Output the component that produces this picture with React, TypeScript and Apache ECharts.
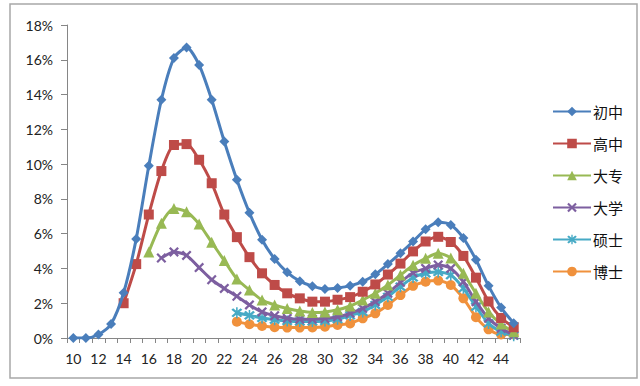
import React, { useEffect, useRef } from "react";
import * as echarts from "echarts";

const categories = [
  "10","11","12","13","14","15","16","17","18","19","20","21","22","23","24","25","26","27",
  "28","29","30","31","32","33","34","35","36","37","38","39","40","41","42","43","44","45",
];

const seriesNames = ["初中", "高中", "大专", "大学", "硕士", "博士"];

const chuzhong = [0, 0, 0.2, 0.8, 2.6, 5.7, 9.9, 13.7, 16.1, 16.7, 15.7, 13.7, 11.3, 9.1, 7.2, 5.65, 4.55, 3.78,
  3.27, 2.98, 2.82, 2.88, 3.0, 3.24, 3.66, 4.25, 4.88, 5.55, 6.25, 6.65, 6.5, 5.75, 4.5, 3.0, 1.75, 0.85];
const gaozhong = [null, null, null, null, 2.0, 4.25, 7.1, 9.6, 11.1, 11.15, 10.25, 8.9, 7.1, 5.8, 4.65, 3.72, 3.05, 2.57,
  2.28, 2.09, 2.09, 2.2, 2.35, 2.66, 3.08, 3.65, 4.28, 4.98, 5.55, 5.82, 5.52, 4.72, 3.47, 2.1, 1.15, 0.62];
const dazhuan = [null, null, null, null, null, null, 4.95, 6.6, 7.45, 7.26, 6.55, 5.5, 4.45, 3.4, 2.76, 2.18, 1.9, 1.7,
  1.55, 1.47, 1.5, 1.62, 1.84, 2.18, 2.57, 3.05, 3.62, 4.18, 4.58, 4.87, 4.6, 3.72, 2.57, 1.5, 0.8, 0.36];
const daxue = [null, null, null, null, null, null, null, 4.6, 4.95, 4.75, 4.05, 3.35, 2.85, 2.4, 1.9, 1.5, 1.28, 1.13,
  1.08, 1.08, 1.12, 1.22, 1.42, 1.7, 2.09, 2.57, 3.2, 3.75, 4.0, 4.2, 4.0, 3.24, 2.09, 1.13, 0.56, 0.17];
const shuoshi = [null, null, null, null, null, null, null, null, null, null, null, null, null, 1.45, 1.3, 1.15, 1.05, 0.98,
  0.95, 0.95, 0.98, 1.08, 1.3, 1.5, 1.9, 2.37, 2.95, 3.48, 3.72, 3.8, 3.62, 2.86, 1.8, 0.84, 0.36, 0.13];
const boshi = [null, null, null, null, null, null, null, null, null, null, null, null, null, 0.94, 0.79, 0.69, 0.62, 0.6,
  0.6, 0.61, 0.65, 0.75, 0.84, 1.13, 1.42, 1.9, 2.47, 3.0, 3.24, 3.3, 3.05, 2.28, 1.2, 0.5, 0.2, 0.2];

const yTicks = { min: 0, max: 18, interval: 2 };

const colors = ["#4A7EBB", "#BE4B48", "#98B954", "#7D5FA0", "#46AAC5", "#F0913C"];

const X_PATH = "path://M1.6,0 L5,3.4 L8.4,0 L10,1.6 L6.6,5 L10,8.4 L8.4,10 L5,6.6 L1.6,10 L0,8.4 L3.4,5 L0,1.6 Z";
const STAR_PATH = "path://M1.6,0 L5,3.4 L8.4,0 L10,1.6 L6.6,5 L10,8.4 L8.4,10 L5,6.6 L1.6,10 L0,8.4 L3.4,5 L0,1.6 Z M4.3,-1 L5.7,-1 L5.7,11 L4.3,11 Z";

const symbols = ["diamond", "rect", "triangle", X_PATH, STAR_PATH, "circle"];
const symbolSizes = [10, 10, 11, 10, 11, 10];
const dataSets = [chuzhong, gaozhong, dazhuan, daxue, shuoshi, boshi];

export default function App() {
  const ref = useRef<HTMLDivElement>(null);
  useEffect(() => {
    if (!ref.current) return;
    const chart = echarts.init(ref.current, null, { renderer: "svg" });
    chart.setOption({
      animation: false,
      backgroundColor: "#ffffff",
      graphic: [
        {
          type: "rect",
          shape: { x: 10, y: 4, width: 627, height: 374 },
          style: { fill: "none", stroke: "#a8a8a8", lineWidth: 1.5 },
          silent: true,
        },
      ],
      grid: { left: 67, right: 120, top: 25, bottom: 48, containLabel: false },
      legend: {
        orient: "vertical",
        left: 547,
        top: 99,
        itemWidth: 38,
        itemHeight: 12,
        itemGap: 17,
        textStyle: { fontFamily: "Noto Sans CJK SC", fontSize: 15, color: "#111", padding: [0, 0, 0, -3] },
        data: seriesNames,
      },
      xAxis: {
        type: "category",
        data: categories,
        boundaryGap: true,
        axisLine: { lineStyle: { color: "#868686", width: 1 } },
        axisTick: { show: true, interval: 0, length: 5, inside: false, lineStyle: { color: "#868686" } },
        axisLabel: { interval: 1, margin: 13, fontFamily: "Lato", fontSize: 14, color: "#222" },
        splitLine: { show: false },
      },
      yAxis: {
        type: "value",
        min: yTicks.min,
        max: yTicks.max,
        interval: yTicks.interval,
        axisLine: { show: true, lineStyle: { color: "#868686", width: 1 } },
        axisTick: { show: true, length: 6, lineStyle: { color: "#868686" } },
        axisLabel: { formatter: "{value}%", margin: 14, fontFamily: "Lato", fontSize: 14, color: "#222" },
        splitLine: { show: false },
      },
      series: seriesNames.map((name, i) => ({
        name,
        type: "line",
        data: dataSets[i],
        smooth: 0.25,
        symbol: symbols[i],
        symbolSize: symbolSizes[i],
        showSymbol: true,
        showAllSymbol: true,
        color: colors[i],
        lineStyle: { width: 3, color: colors[i] },
        itemStyle: { color: colors[i] },
        z: 10 - i,
      })),
    });
    return () => chart.dispose();
  }, []);
  return (
    <div
      ref={ref}
      style={{ position: "fixed", left: 0, top: 0, width: 640, height: 386, background: "#fff" }}
    />
  );
}
